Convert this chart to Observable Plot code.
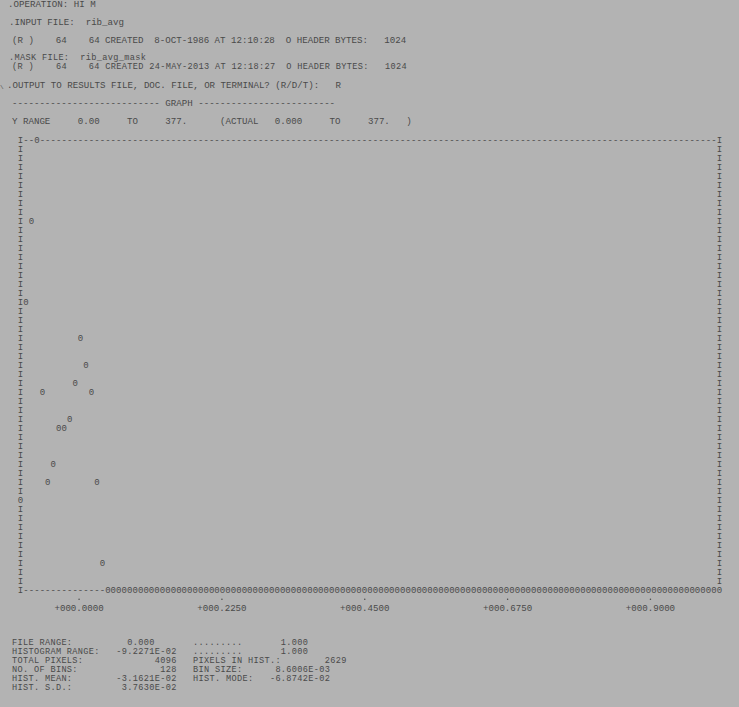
<!DOCTYPE html>
<html><head><meta charset="utf-8">
<script src="https://cdn.jsdelivr.net/npm/d3@7"></script>
<script src="https://cdn.jsdelivr.net/npm/@observablehq/plot@0.6"></script>
<style>
html,body{margin:0;padding:0;background:#b3b3b3;}
body{width:739px;height:707px;position:relative;overflow:hidden;font-family:"Liberation Mono",monospace;font-size:9.15px;color:#4a4a4a;}
.ln{position:absolute;white-space:pre;line-height:9px;height:9px;}
.tight{font-size:8.6px;letter-spacing:0.33px;}
#chart{position:absolute;left:0;top:126px;}
</style></head><body>
<div id="header"></div>
<div id="chart"></div>
<div id="footer"></div>
<script>
// ---- histogram definition (from the printout) ----
const histMin = -9.2271E-02;
const binSize = 8.6006E-03;
const nBins = 128;
const yMax = 377;
const nRows = 50;
// counts per bin (one column per bin)
const binCounts = [
  75, 241, 309, 377, 166, 90, 106, 136, 136, 143, 173, 211, 189, 166, 90, 23,
  0,0,0,0,0,0,0,0,0,0,0,0,0,0,0,0,
  0,0,0,0,0,0,0,0,0,0,0,0,0,0,0,0,
  0,0,0,0,0,0,0,0,0,0,0,0,0,0,0,0,
  0,0,0,0,0,0,0,0,0,0,0,0,0,0,0,0,
  0,0,0,0,0,0,0,0,0,0,0,0,0,0,0,0,
  0,0,0,0,0,0,0,0,0,0,0,0,0,0,0,0,
  0,0,0,0,0,0,0,0,0,0,0,0,0,0,0,0
];
const xTicks = [0, 0.225, 0.45, 0.675, 0.9];

// ---- text helpers (monospace column layout) ----
function atCols(parts){
  let s = "";
  for (const [t, c] of parts){ while (s.length < c) s += " "; s += t; }
  return s;
}
function addLine(parent, text, left, row, cls){
  const d = document.createElement("div");
  d.className = "ln" + (cls ? " " + cls : "");
  d.textContent = text;
  d.style.left = left + "px";
  d.style.top = (4.3 + 9*row - 4.5) + "px";
  parent.appendChild(d);
}
const header = document.getElementById("header");
addLine(header, ".OPERATION: HI M", 8, 0);
addLine(header, ".INPUT FILE:  rib_avg", 9, 2);
addLine(header, atCols([["(R )",0],["64",8],["64",14],["CREATED",17],["8-OCT-1986",26],["AT",37],["12:10:28",40],["O",50],["HEADER",52],["BYTES:",59],["1024",68]]), 12, 4);
addLine(header, ".MASK FILE:  rib_avg_mask", 9, 6, "tight");
addLine(header, atCols([["(R )",0],["64",8],["64",14],["CREATED",17],["24-MAY-2013",25],["AT",37],["12:18:27",40],["O",50],["HEADER",52],["BYTES:",59],["1024",68]]), 12, 7, "tight");
addLine(header, ".OUTPUT TO RESULTS FILE, DOC. FILE, OR TERMINAL? (R/D/T):   R", 7, 9);
addLine(header, "-".repeat(27) + " GRAPH " + "-".repeat(25), 12, 11);
addLine(header, atCols([["Y RANGE",0],["0.00",12],["TO",21],[yMax+".",28],["(ACTUAL",38],["0.000",48],["TO",58],[yMax+".",65],[")",72]]), 12, 13);
// small stray mark at left of the OUTPUT line
const stray = document.createElement("div");
stray.className = "ln"; stray.textContent = "\\";
stray.style.left = "0px"; stray.style.top = (4.3+9*9-2.5)+"px"; stray.style.fontSize = "6px";
header.appendChild(stray);

const footer = document.getElementById("footer");
const footerLines = [
  [["FILE RANGE:",0],["0.000",21],[".........",33],["1.000",49]],
  [["HISTOGRAM RANGE:",0],["-9.2271E-02",19],[".........",33],["1.000",49]],
  [["TOTAL PIXELS:",0],["4096",26],["PIXELS IN HIST.:",33],["2629",57]],
  [["NO. OF BINS:",0],[String(nBins),27],["BIN SIZE:",33],["8.6006E-03",48]],
  [["HIST. MEAN:",0],["-3.1621E-02",19],["HIST. MODE:",33],["-6.8742E-02",47]],
  [["HIST. S.D.:",0],["3.7630E-02",20]]
];
footerLines.forEach((p, i) => addLine(footer, atCols(p), 12, 71 + i, "tight"));

// ---- graph: character raster drawn with Plot scales ----
const points = binCounts.map((c, i) => ({col: i, row: Math.round(c / yMax * nRows), ch: "0"}));
const occupied = new Set(points.map(p => p.col + "," + p.row));
let frame = [];
for (let u = 0; u <= nRows; u++){
  frame.push({col: 0, row: u, ch: "I"});
  frame.push({col: nBins, row: u, ch: u === 0 ? "0" : "I"});
}
for (let c = 1; c < nBins; c++){
  frame.push({col: c, row: nRows, ch: "-"});
  frame.push({col: c, row: 0, ch: "-"});
}
frame = frame.filter(f => !occupied.has(f.col + "," + f.row));

const colX = d => histMin + d.col * binSize;
const txt = {fontFamily: "Liberation Mono", fontSize: 9.0, fill: "#4a4a4a", textAnchor: "middle", lineAnchor: "middle"};
const fmt = d => "+" + d.toFixed(4).padStart(8, "0");

const chart = Plot.plot({
  width: 739, height: 490,
  marginLeft: 20, marginRight: 20.1, marginTop: 13.3, marginBottom: 8.7,
  x: {domain: [histMin, histMin + nBins * binSize], axis: null},
  y: {domain: [-2, nRows], axis: null},
  style: {background: "transparent", overflow: "visible"},
  marks: [
    Plot.text(frame, {x: colX, y: "row", text: "ch", ...txt}),
    Plot.text(points, {x: colX, y: "row", text: "ch", ...txt}),
    Plot.dot(xTicks, {x: d => d, y: -1, r: 0.75, fill: "#4a4a4a", stroke: null, dy: 0.5}),
    Plot.text(xTicks, {x: d => d, y: -2, text: fmt, ...txt, fontSize: 9.15})
  ]
});
document.getElementById("chart").appendChild(chart);
</script>
</body></html>
